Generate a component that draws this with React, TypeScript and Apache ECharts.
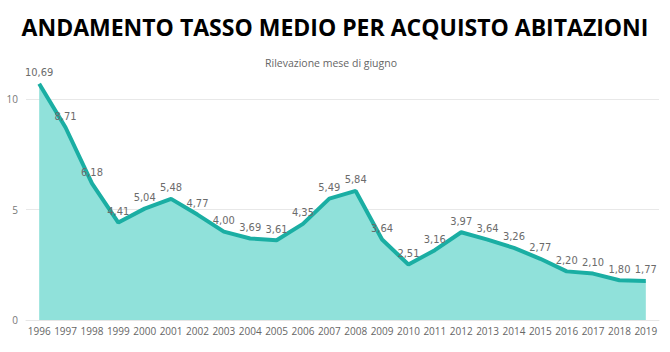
import React, { useEffect, useRef } from "react";
import * as echarts from "echarts";

const years = ["1996","1997","1998","1999","2000","2001","2002","2003","2004","2005","2006","2007","2008","2009","2010","2011","2012","2013","2014","2015","2016","2017","2018","2019"];
const rates = [10.69,8.71,6.18,4.41,5.04,5.48,4.77,4.00,3.69,3.61,4.35,5.49,5.84,3.64,2.51,3.16,3.97,3.64,3.26,2.77,2.20,2.10,1.80,1.77];
const titleText = "ANDAMENTO TASSO MEDIO PER ACQUISTO ABITAZIONI";
const subtitleText = "Rilevazione mese di giugno";

export default function App() {
  const ref = useRef<HTMLDivElement>(null);
  useEffect(() => {
    const chart = echarts.init(ref.current!, null, { renderer: "svg" });
    chart.setOption({
      animation: false,
      backgroundColor: "#ffffff",
      title: [
        {
          text: titleText,
          left: "center",
          top: 10,
          textStyle: { fontFamily: "Open Sans", fontWeight: "bold", fontSize: 23, color: "#000" },
        },
        {
          text: subtitleText,
          left: 326,
          textAlign: "center",
          top: 52,
          textStyle: { fontFamily: "Open Sans", fontWeight: "normal", fontSize: 10.5, color: "#666" },
        },
      ],
      grid: { left: 26, right: 11, top: 99, bottom: 32, containLabel: false },
      xAxis: {
        type: "category",
        data: years,
        boundaryGap: true,
        axisLine: { show: true, lineStyle: { color: "#e6e6e6" } },
        axisTick: { show: false },
        axisLabel: { color: "#666", fontFamily: "Open Sans", fontSize: 10, margin: 6, interval: 0 },
      },
      yAxis: {
        type: "value",
        min: 0,
        max: 10,
        interval: 5,
        axisLine: { show: false },
        axisTick: { show: false },
        axisLabel: { color: "#777", fontFamily: "Open Sans", fontSize: 10, margin: 8 },
        splitLine: { lineStyle: { color: "#e8e8e8" } },
      },
      series: [
        {
          type: "line",
          data: rates,
          clip: false,
          symbol: "circle",
          symbolSize: 1,
          showSymbol: true,
          itemStyle: { color: "rgba(0,0,0,0)" },
          lineStyle: { color: "#1aaea3", width: 4 },
          areaStyle: { color: "#90e1da", opacity: 1 },
          label: {
            show: true,
            position: "top",
            distance: 5,
            color: "#6b6b6b",
            fontFamily: "DejaVu Sans Condensed",
            fontSize: 11,
            formatter: (p: any) => p.value.toFixed(2).replace(".", ","),
          },
          labelLayout: { hideOverlap: false },
        },
      ],
    });
    return () => chart.dispose();
  }, []);
  return <div ref={ref} style={{ width: 670, height: 352, position: "absolute", left: 0, top: 0 }} />;
}
